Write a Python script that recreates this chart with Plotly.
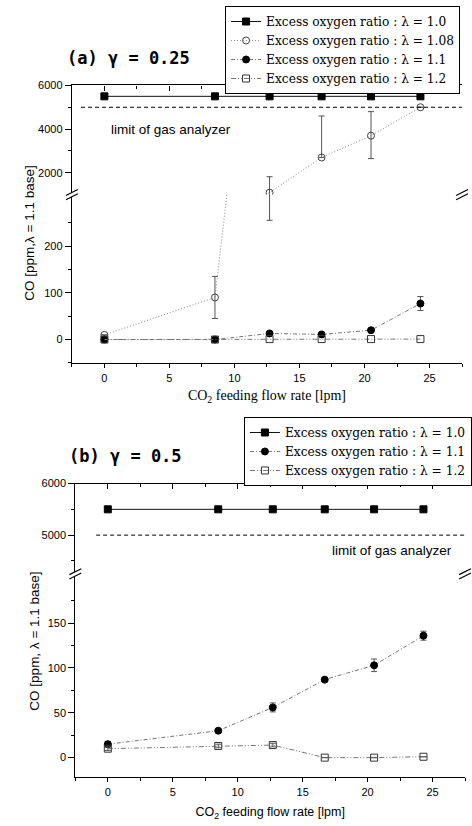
import plotly.graph_objects as go

# ---------------- data ----------------
FLOW = [0, 8.5, 12.7, 16.7, 20.5, 24.3]          # CO2 feeding flow rate [lpm]

# (a) gamma = 0.25
A_L100 = [5500, 5500, 5500, 5500, 5500, 5500]
A_L108 = [10, 90, 1090, 2700, 3700, 5000]
A_L108_EP = [0, 45, 730, 1900, 1100, 0]
A_L108_EM = [0, 45, 835, 0, 1050, 0]
A_L110 = [0, 0, 13, 11, 20, 77]
A_L110_E = [0, 0, 2, 2, 2, 15]
A_L120 = [0, 0, 1, 1, 1, 1]

# (b) gamma = 0.5
B_L100 = [5500, 5500, 5500, 5500, 5500, 5500]
B_L110 = [15, 30, 56, 87, 103, 136]
B_L110_E = [3, 2, 5, 2, 7, 5]
B_L120 = [10, 13, 14, 0, 0, 1]
B_L120_E = [2, 2, 2, 0, 0, 0]

LIMIT = 5000
NAMES = {
    "1.0": "Excess oxygen ratio : λ = 1.0",
    "1.08": "Excess oxygen ratio : λ = 1.08",
    "1.1": "Excess oxygen ratio : λ = 1.1",
    "1.2": "Excess oxygen ratio : λ = 1.2",
}

W, H = 472, 826
SANS = "Arial, Liberation Sans, sans-serif"
SERIF = "Liberation Serif, Times New Roman, serif"
LEGSERIF = "DejaVu Serif, serif"


def px(x):
    return x / W


def py(y):
    return 1 - y / H


STYLE = {
    "1.0": dict(line=dict(color="#111", width=1, dash="solid"),
                marker=dict(symbol="square", size=7, color="black",
                            line=dict(color="black", width=1))),
    "1.08": dict(line=dict(color="#888", width=1, dash="1px,2px"),
                 marker=dict(symbol="circle-open", size=7, color="#444",
                             line=dict(color="#444", width=1))),
    "1.1": dict(line=dict(color="#777", width=1, dash="4px,2px,1px,2px"),
                marker=dict(symbol="circle", size=7, color="black",
                            line=dict(color="black", width=1))),
    "1.2": dict(line=dict(color="#777", width=1, dash="5px,2px,1px,2px,1px,2px"),
                marker=dict(symbol="square-open", size=7, color="#333",
                            line=dict(color="#333", width=1))),
}

fig = go.Figure()


def add_series(key, y, axes, legend, ep=None, em=None):
    (xu, yu), (xl, yl) = axes
    err = None
    if ep is not None:
        err = dict(type="data", symmetric=em is None, array=ep,
                   arrayminus=em if em is not None else None,
                   color="#555", thickness=1, width=3)
    for i, (xa, ya) in enumerate([(xu, yu), (xl, yl)]):
        fig.add_trace(go.Scatter(
            x=FLOW, y=y, xaxis=xa, yaxis=ya, mode="lines+markers",
            name=NAMES[key], legend=legend,
            showlegend=(i == 0), error_y=err, **STYLE[key]))


A_AX = [("x2", "y2"), ("x", "y")]
B_AX = [("x4", "y6"), ("x3", "y5")]

add_series("1.0", A_L100, A_AX, "legend")
add_series("1.08", A_L108, A_AX, "legend", A_L108_EP, A_L108_EM)
add_series("1.1", A_L110, A_AX, "legend", A_L110_E)
add_series("1.2", A_L120, A_AX, "legend")

add_series("1.0", B_L100, B_AX, "legend2")
add_series("1.1", B_L110, B_AX, "legend2", B_L110_E)
add_series("1.2", B_L120, B_AX, "legend2", B_L120_E)

# ---------------- axes ----------------
TICKFONT = dict(family=SANS, size=11, color="black")
BASE = dict(showline=True, linecolor="black", linewidth=1.2, showgrid=False,
            zeroline=False, tickcolor="black", tickfont=TICKFONT, ticklen=6)

XR = [-2.5, 27.5]


def xaxes(dom, bottom_anchor, top_anchor, title, tfont, standoff):
    bot = dict(BASE, domain=dom, anchor=bottom_anchor, range=XR, dtick=5,
               tick0=0, ticks="outside", ticklen=4,
               minor=dict(dtick=2.5, ticklen=3, ticks="outside", tickcolor="black"),
               title=dict(text=title, font=tfont, standoff=standoff))
    top = dict(BASE, domain=dom, anchor=top_anchor, range=XR, dtick=5,
               tick0=0, side="top", ticks="inside", ticklen=5,
               showticklabels=False,
               minor=dict(dtick=2.5, ticklen=3, ticks="inside", tickcolor="black"))
    return bot, top


def yaxes(dom, anchor, rng, tv, mv):
    return dict(BASE, domain=dom, anchor=anchor, range=rng, tickmode="array",
                tickvals=tv, ticks="outside",
                minor=dict(tickvals=mv, ticklen=3, ticks="outside", tickcolor="black"))


def yright(dom, anchor, rng, tv, mv, over):
    return dict(BASE, domain=dom, anchor=anchor, range=rng, tickmode="array",
                tickvals=tv, ticks="inside", side="right", overlaying=over,
                showticklabels=False, ticklen=5,
                minor=dict(tickvals=mv, ticklen=3, ticks="inside", tickcolor="black"))


A_XDOM = [px(72.5), px(466)]
B_XDOM = [px(76), px(469)]
A_UP = [py(190), py(80)]
A_LO = [py(360), py(190)]
B_UP = [py(572), py(481)]
B_LO = [py(777), py(572)]

A_UP_R = [1000, 6000]
A_LO_R = [-51, 310]
B_UP_R = [4250, 6000]
B_LO_R = [-22, 205]

xa, xa2 = xaxes(A_XDOM, "y", "y2", "CO<sub>2</sub> feeding flow rate [lpm]",
                dict(family=SERIF, size=14, color="black"), 7)
xb, xb2 = xaxes(B_XDOM, "y5", "y6", "CO<sub>2</sub> feeding flow rate [lpm]",
                dict(family=SANS, size=12.5, color="black"), 10)

LEGFONT = dict(family=LEGSERIF, size=12.2, color="black")

layout = dict(
    width=W, height=H, margin=dict(l=0, r=0, t=0, b=0),
    paper_bgcolor="white", plot_bgcolor="white",
    xaxis=xa, xaxis2=xa2, xaxis3=xb, xaxis4=xb2,
    yaxis=yaxes(A_LO, "x", A_LO_R, [0, 100, 200], [-50, 50, 150, 250]),
    yaxis2=yaxes(A_UP, "x2", A_UP_R, [2000, 4000, 6000], [3000, 5000]),
    yaxis3=yright(A_LO, "x", A_LO_R, [0, 100, 200], [-50, 50, 150, 250], "y"),
    yaxis4=yright(A_UP, "x2", A_UP_R, [2000, 4000, 6000], [3000, 5000], "y2"),
    yaxis5=yaxes(B_LO, "x3", B_LO_R, [0, 50, 100, 150], [25, 75, 125, 175]),
    yaxis6=yaxes(B_UP, "x4", B_UP_R, [5000, 6000], [4500, 5500]),
    yaxis7=yright(B_LO, "x3", B_LO_R, [0, 50, 100, 150], [25, 75, 125, 175], "y5"),
    yaxis8=yright(B_UP, "x4", B_UP_R, [5000, 6000], [4500, 5500], "y6"),
    legend=dict(x=px(227), xanchor="left", y=1, yanchor="top",
                bgcolor="white", bordercolor="black", borderwidth=1,
                font=LEGFONT, tracegroupgap=0, itemwidth=30),
    legend2=dict(x=px(246), xanchor="left", y=py(414), yanchor="top",
                 bgcolor="white", bordercolor="black", borderwidth=1,
                 font=LEGFONT, tracegroupgap=0, itemwidth=30),
    showlegend=True,
)
fig.update_layout(**layout)

# limit of gas analyzer lines
fig.add_shape(type="line", xref="x2", yref="y2", x0=-1.8, x1=27.5, y0=LIMIT, y1=LIMIT,
              line=dict(color="black", width=1, dash="4px,3px"))
fig.add_shape(type="line", xref="x4", yref="y6", x0=-0.9, x1=27.5, y0=LIMIT, y1=LIMIT,
              line=dict(color="black", width=1, dash="4px,3px"))


# axis break marks
def brk(xc, yc):
    w, h, gap = 6, 3, 2.2
    path = (f"M {px(xc-w)},{py(yc+h+gap)} L {px(xc+w)},{py(yc-h+gap)} "
            f"L {px(xc+w)},{py(yc-h-gap)} L {px(xc-w)},{py(yc+h-gap)} Z")
    fig.add_shape(type="path", xref="paper", yref="paper", path=path,
                  fillcolor="white", line=dict(width=0), layer="above")
    for s in (+gap, -gap):
        fig.add_shape(type="line", xref="paper", yref="paper",
                      x0=px(xc - w), y0=py(yc + h + s), x1=px(xc + w), y1=py(yc - h + s),
                      line=dict(color="black", width=1.2), layer="above")


brk(72.5, 190)
brk(466, 190)
brk(76, 572)
brk(469, 572)

ann = [
    dict(text="<b>(a) γ = 0.25</b>", x=px(66), y=py(52), xanchor="left",
         font=dict(family="DejaVu Sans Mono", size=17, color="black")),
    dict(text="<b>(b) γ = 0.5</b>", x=px(68), y=py(453), xanchor="left",
         font=dict(family="DejaVu Sans Mono", size=17, color="black")),
    dict(text="limit of gas analyzer", x=px(110), y=py(124), xanchor="left",
         font=dict(family=SANS, size=13.5, color="black")),
    dict(text="limit of gas analyzer", x=px(458), y=py(548), xanchor="right",
         font=dict(family=SANS, size=13.5, color="black")),
    dict(text="CO [ppm,λ = 1.1 base]", x=px(20), y=py(229), textangle=-90,
         font=dict(family=SANS, size=13.5, color="black")),
    dict(text="CO [ppm, λ = 1.1 base]", x=px(25), y=py(640), textangle=-90,
         font=dict(family=SANS, size=13.5, color="black")),
]
for a in ann:
    fig.add_annotation(xref="paper", yref="paper", showarrow=False,
                       yanchor="middle", **a)

fig.write_html("out.html")
